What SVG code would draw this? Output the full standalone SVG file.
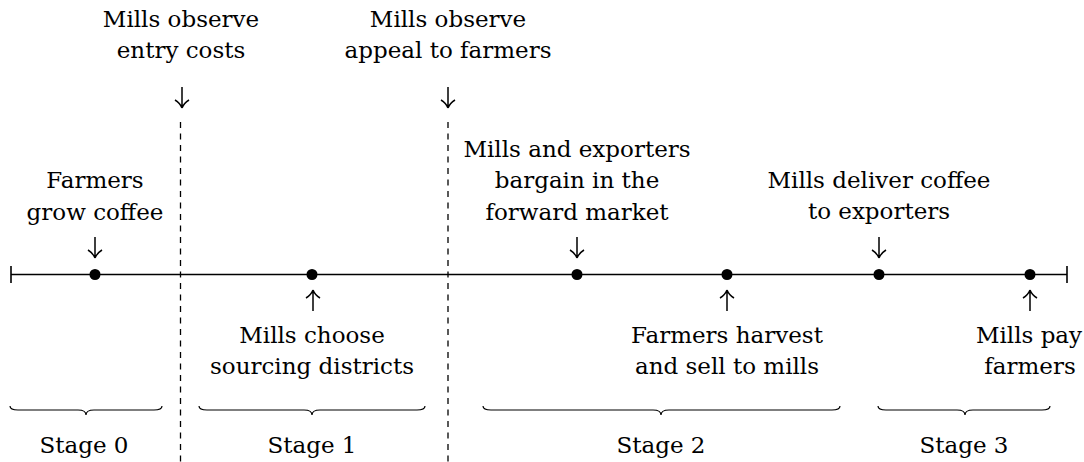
<svg xmlns="http://www.w3.org/2000/svg" width="1084" height="462" viewBox="0 0 1084 462">
<defs>
<path id="dn" d="M0,-21 V0 M-7,-8 Q-2,-5 0,0 M7,-8 Q2,-5 0,0"/>
<path id="up" d="M0,21 V0 M-7,8 Q-2,5 0,0 M7,8 Q2,5 0,0"/>
</defs>
<style>
text{font-family:"DejaVu Serif",serif;font-size:23px;fill:#000;text-anchor:middle}
.ax{stroke:#000;stroke-width:1.6;fill:none}
.dash{stroke:#000;stroke-width:1.3;stroke-dasharray:6 5.5;fill:none}
.br{stroke:#000;stroke-width:1.2;fill:none}
.arr{stroke:#000;stroke-width:1.5;fill:none}
</style>
<rect width="1084" height="462" fill="#fff"/>
<g id="connectors">
<line class="ax" x1="11" y1="274.5" x2="1067" y2="274.5"/>
<line class="ax" x1="11" y1="266" x2="11" y2="283"/>
<line class="ax" x1="1067" y1="266" x2="1067" y2="283"/>
<line class="dash" x1="180.5" y1="122" x2="180.5" y2="462"/>
<line class="dash" x1="448" y1="122" x2="448" y2="462"/>
</g>
<g id="n0"><circle cx="95" cy="274.5" r="5.5"/><text x="95" y="188">Farmers</text><text x="95" y="220">grow coffee</text><use class="arr" href="#dn" x="95" y="258"/></g>
<g id="n1"><text x="181" y="27">Mills observe</text><text x="181" y="58">entry costs</text><use class="arr" href="#dn" x="182" y="108"/></g>
<g id="n2"><circle cx="312" cy="274.5" r="5.5"/><use class="arr" href="#up" x="313" y="290"/><text x="312" y="343">Mills choose</text><text x="312" y="374">sourcing districts</text></g>
<g id="n3"><text x="448" y="27">Mills observe</text><text x="448" y="58">appeal to farmers</text><use class="arr" href="#dn" x="448" y="108"/></g>
<g id="n4"><circle cx="577" cy="274.5" r="5.5"/><text x="577" y="157">Mills and exporters</text><text x="577" y="188">bargain in the</text><text x="577" y="220">forward market</text><use class="arr" href="#dn" x="577" y="258"/></g>
<g id="n5"><circle cx="727" cy="274.5" r="5.5"/><use class="arr" href="#up" x="727" y="290"/><text x="727" y="343">Farmers harvest</text><text x="727" y="374">and sell to mills</text></g>
<g id="n6"><circle cx="879" cy="274.5" r="5.5"/><text x="879" y="188">Mills deliver coffee</text><text x="879" y="219">to exporters</text><use class="arr" href="#dn" x="879" y="258"/></g>
<g id="n7"><circle cx="1030" cy="274.5" r="5.5"/><use class="arr" href="#up" x="1030" y="290"/><text x="1029" y="343">Mills pay</text><text x="1030" y="374">farmers</text></g>
<g id="stage0"><path class="br" d="M10,406 Q10,410 18,410 L78,410 Q86,410 86,415 Q86,410 94,410 L154,410 Q162,410 162,406"/><text x="84" y="453">Stage 0</text></g>
<g id="stage1"><path class="br" d="M199,406 Q199,410 207,410 L304,410 Q312,410 312,415 Q312,410 320,410 L417,410 Q425,410 425,406"/><text x="312" y="453">Stage 1</text></g>
<g id="stage2"><path class="br" d="M483,406 Q483,410 491,410 L653,410 Q661,410 661,415 Q661,410 669,410 L832,410 Q840,410 840,406"/><text x="661" y="453">Stage 2</text></g>
<g id="stage3"><path class="br" d="M878,406 Q878,410 886,410 L957,410 Q965,410 965,415 Q965,410 973,410 L1042,410 Q1050,410 1050,406"/><text x="964" y="453">Stage 3</text></g>
</svg>
